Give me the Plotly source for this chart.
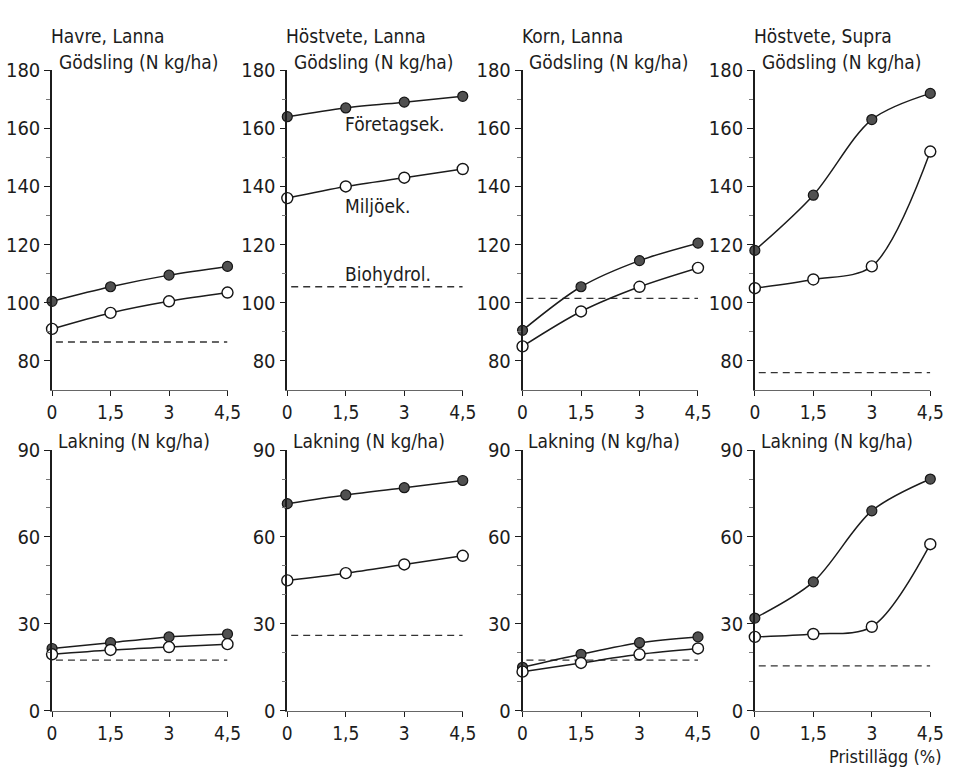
import plotly.graph_objects as go

# Price premium (%) on the x axis
pristillagg = [0, 1.5, 3, 4.5]
x_tick_text = ["0", "1,5", "3", "4,5"]

crops = ["Havre, Lanna", "Höstvete, Lanna", "Korn, Lanna", "Höstvete, Supra"]

# Fertilisation (N kg/ha)
godsling_foretagsek = [
    [100.5, 105.5, 109.5, 112.5],
    [164, 167, 169, 171],
    [90.5, 105.5, 114.5, 120.5],
    [118, 137, 163, 172],
]
godsling_miljoek = [
    [91, 96.5, 100.5, 103.5],
    [136, 140, 143, 146],
    [85, 97, 105.5, 112],
    [105, 108, 112.5, 152],
]
godsling_biohydrol = [86.5, 105.5, 101.5, 76]

# Leaching (N kg/ha)
lakning_foretagsek = [
    [21.5, 23.5, 25.5, 26.5],
    [71.5, 74.5, 77, 79.5],
    [15, 19.5, 23.5, 25.5],
    [32, 44.5, 69, 80],
]
lakning_miljoek = [
    [19.5, 21, 22, 23],
    [45, 47.5, 50.5, 53.5],
    [13.5, 16.5, 19.5, 21.5],
    [25.5, 26.5, 29, 57.5],
]
lakning_biohydrol = [17.5, 26, 17.5, 15.5]

godsling_major = [80, 100, 120, 140, 160, 180]
godsling_minor = [90, 110, 130, 150, 170]
lakning_major = [0, 30, 60, 90]
lakning_minor = [10, 20, 40, 50, 70, 80]

W, H = 959, 778
FONT = "DejaVu Sans Condensed, DejaVu Sans, sans-serif"
INK = "#1c1c1c"

# pixel layout of the panels
col_left = [48, 288, 528, 765]
col_width = 179
top_rows = (60, 390)     # pixel top / bottom of upper panels
bot_rows = (452, 721)    # pixel top / bottom of lower panels


def px(x):
    return x / W


def py(y):
    return 1 - y / H


fig = go.Figure()
layout = dict(
    width=W, height=H,
    margin=dict(l=0, r=0, t=0, b=0),
    paper_bgcolor="white", plot_bgcolor="white",
    showlegend=False,
    font=dict(family=FONT, color=INK, size=19),
)


def add_panel(idx, col, rows, yrange, major, minor, fore, milj, bio):
    xa = "xaxis" if idx == 1 else f"xaxis{idx}"
    ya = "yaxis" if idx == 1 else f"yaxis{idx}"
    xr = "x" if idx == 1 else f"x{idx}"
    yr = "y" if idx == 1 else f"y{idx}"
    layout[xa] = dict(
        domain=[px(col_left[col]), px(col_left[col] + col_width)],
        anchor=yr, range=[0, 4.5],
        showgrid=False, zeroline=False,
        showline=True, linecolor="#666", linewidth=1,
        ticks="outside", ticklen=5, tickwidth=1.2, tickcolor=INK,
        tickvals=pristillagg, ticktext=x_tick_text,
        tickfont=dict(size=19, family=FONT, color=INK),
    )
    layout[ya] = dict(
        domain=[py(rows[1]), py(rows[0])],
        anchor=xr, range=yrange,
        showgrid=False, zeroline=False,
        showline=True, linecolor=INK, linewidth=1.5,
        ticks="outside", ticklen=6, tickwidth=1.2, tickcolor=INK,
        tickvals=major,
        tickfont=dict(size=20, family=FONT, color=INK),
        minor=dict(tickvals=minor, ticks="outside", ticklen=4,
                   tickwidth=1, tickcolor="#777"),
    )
    # Biohydrol. reference level
    fig.add_trace(go.Scatter(
        x=[0.1, 4.5], y=[bio, bio], mode="lines", xaxis=xr, yaxis=yr,
        line=dict(color="#333", width=1.3, dash="7px,5px"),
        hoverinfo="skip"))
    # Företagsekonomiskt optimum
    fig.add_trace(go.Scatter(
        x=pristillagg, y=fore, mode="lines+markers", xaxis=xr, yaxis=yr,
        line=dict(color=INK, width=1.5, shape="spline", smoothing=0.9),
        marker=dict(size=10, color="#505050",
                    line=dict(color="#151515", width=1.2)),
        cliponaxis=False))
    # Miljöekonomiskt optimum
    fig.add_trace(go.Scatter(
        x=pristillagg, y=milj, mode="lines+markers", xaxis=xr, yaxis=yr,
        line=dict(color=INK, width=1.5, shape="spline", smoothing=0.9),
        marker=dict(size=11, color="white",
                    line=dict(color="#151515", width=1.4)),
        cliponaxis=False))


for c in range(4):
    add_panel(c + 1, c, top_rows, [70, 180], godsling_major, godsling_minor,
              godsling_foretagsek[c], godsling_miljoek[c], godsling_biohydrol[c])
for c in range(4):
    add_panel(c + 5, c, bot_rows, [0, 90], lakning_major, lakning_minor,
              lakning_foretagsek[c], lakning_miljoek[c], lakning_biohydrol[c])

annotations = []


def label(text, x, y, size=19, anchor="left"):
    annotations.append(dict(
        text=text, x=px(x), y=py(y), xref="paper", yref="paper",
        xanchor=anchor, yanchor="middle", showarrow=False, borderpad=0,
        font=dict(size=size, family=FONT, color=INK)))


for c, name in enumerate(crops):
    label(name, col_left[c] - 2, 25)
    label("Gödsling (N kg/ha)", col_left[c] + 6, 52)
    label("Lakning (N kg/ha)", col_left[c] + 5, 443)

# Series names in the Höstvete, Lanna panel
label("Företagsek.", 346, 116)
label("Miljöek.", 346, 200)
label("Biohydrol.", 346, 270)

label("Pristillägg (%)", 957, 768, size=18, anchor="right")

layout["annotations"] = annotations
fig.update_layout(**layout)
fig.write_html("out.html")
